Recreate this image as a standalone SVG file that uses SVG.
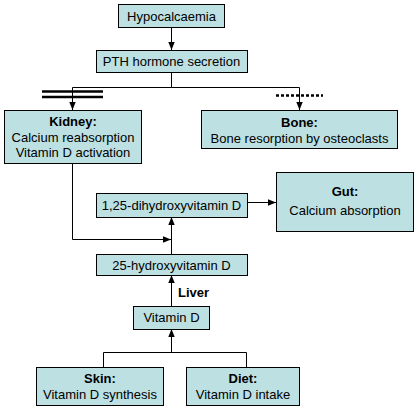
<svg xmlns="http://www.w3.org/2000/svg" width="418" height="410" viewBox="0 0 418 410">
<defs>
<style>
.box{fill:#BDE0E3;stroke:#000;stroke-width:1}
.t{font-family:"Liberation Sans",Arial,sans-serif;font-size:13px;fill:#000;text-anchor:middle}
.b{font-weight:bold}
.ln{fill:none;stroke:#000;stroke-width:1}
</style>
<marker id="ah" viewBox="0 0 8 8" refX="8" refY="4" markerWidth="8" markerHeight="8" markerUnits="userSpaceOnUse" orient="auto">
<path d="M0,0.8 L8,4 L0,7.2 Z" fill="#000"/>
</marker>
</defs>
<rect width="418" height="410" fill="#fff"/>
<g id="connectors">
<path class="ln" d="M171.5,27 V50" marker-end="url(#ah)"/>
<path class="ln" d="M171.5,72 V87.5 H72.5 V110" marker-end="url(#ah)"/>
<path class="ln" d="M171.5,87.5 H299.5 V110" marker-end="url(#ah)"/>
<path d="M42,91.5 H103 M42,97 H103" stroke="#000" stroke-width="2.4" fill="none"/>
<path d="M276,95.5 H323" stroke="#000" stroke-width="2.5" stroke-dasharray="3,2" fill="none"/>
<path class="ln" d="M72.5,163 V239.5 H171" marker-end="url(#ah)"/>
<path class="ln" d="M171.5,254 V217" marker-end="url(#ah)"/>
<path class="ln" d="M247,202.5 H276" marker-end="url(#ah)"/>
<path class="ln" d="M171.5,306 V275" marker-end="url(#ah)"/>
<path class="ln" d="M171.5,352.5 V329" marker-end="url(#ah)"/>
<path class="ln" d="M103.5,367 V352.5 H246.5 V367"/>
<text class="t b" x="178" y="297" style="text-anchor:start">Liver</text>
</g>
<g id="hypocalcaemia">
<rect class="box" x="118.5" y="4.5" width="106" height="23"/>
<text class="t" x="171.5" y="20.5">Hypocalcaemia</text>
</g>
<g id="pth">
<rect class="box" x="96.5" y="50.5" width="151" height="22"/>
<text class="t" x="171.5" y="65.5">PTH hormone secretion</text>
</g>
<g id="kidney">
<rect class="box" x="4.5" y="110.5" width="137" height="53"/>
<text class="t b" x="73" y="126">Kidney:</text>
<text class="t" x="73" y="141.5">Calcium reabsorption</text>
<text class="t" x="73" y="157">Vitamin D activation</text>
</g>
<g id="bone">
<rect class="box" x="201.5" y="110.5" width="196" height="38"/>
<text class="t b" x="299.5" y="127">Bone:</text>
<text class="t" x="299.5" y="142.5">Bone resorption by osteoclasts</text>
</g>
<g id="dihydroxy">
<rect class="box" x="96.5" y="193.5" width="151" height="24"/>
<text class="t" x="171.5" y="209.5">1,25-dihydroxyvitamin D</text>
</g>
<g id="gut">
<rect class="box" x="276.5" y="172.5" width="137" height="59"/>
<text class="t b" x="345" y="196">Gut:</text>
<text class="t" x="345" y="215">Calcium absorption</text>
</g>
<g id="hydroxy">
<rect class="box" x="96.5" y="254.5" width="151" height="21"/>
<text class="t" x="171.5" y="270">25-hydroxyvitamin D</text>
</g>
<g id="vitd">
<rect class="box" x="133.5" y="306.5" width="76" height="23"/>
<text class="t" x="171.5" y="322">Vitamin D</text>
</g>
<g id="skin">
<rect class="box" x="36.5" y="367.5" width="127" height="38"/>
<text class="t b" x="100" y="383">Skin:</text>
<text class="t" x="100" y="399">Vitamin D synthesis</text>
</g>
<g id="diet">
<rect class="box" x="186.5" y="367.5" width="113" height="38"/>
<text class="t b" x="243" y="383">Diet:</text>
<text class="t" x="243" y="399">Vitamin D intake</text>
</g>
</svg>
